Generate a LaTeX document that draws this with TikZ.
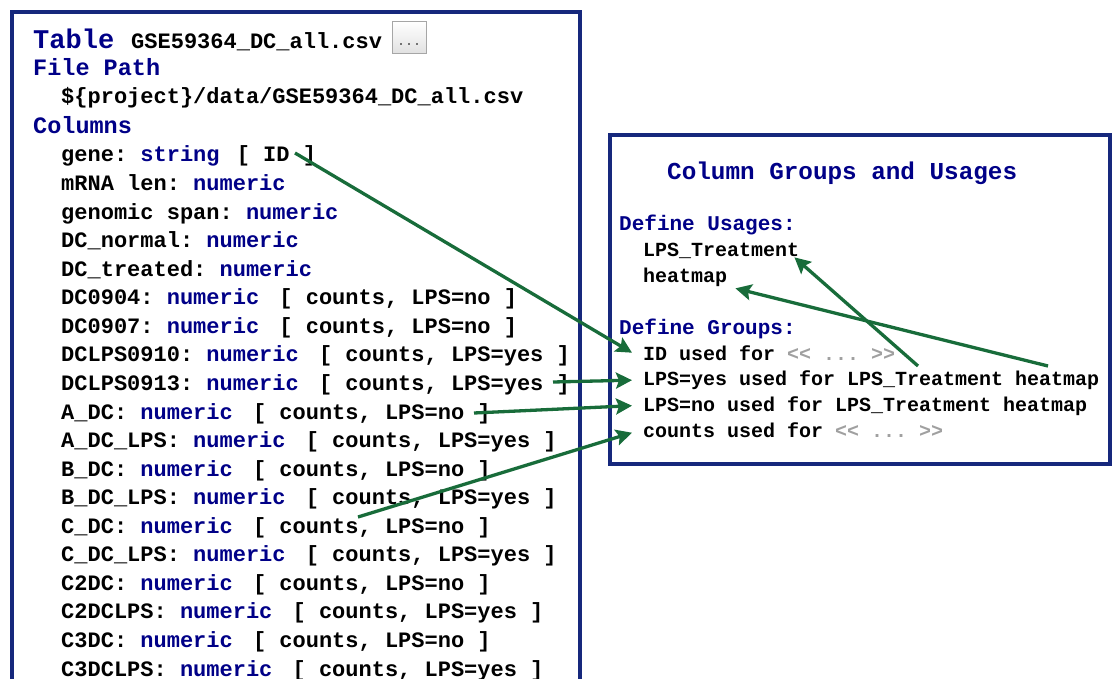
\documentclass[tikz,border=0pt]{standalone}
\usepackage{fontspec}
\setmonofont{Liberation Mono}
\usetikzlibrary{arrows.meta}
\definecolor{boxblue}{RGB}{22,40,124}
\definecolor{navytext}{RGB}{0,0,135}
\definecolor{arrgreen}{RGB}{24,108,58}
\definecolor{ghost}{RGB}{160,160,160}
\newcommand{\nv}[1]{\textcolor{navytext}{#1}}
\newcommand{\gh}[1]{\textcolor{ghost}{#1}}
\newcommand{\tg}[1]{\kern7pt[ #1 ]}
\tikzset{
  boxline/.style={draw=boxblue, line width=4pt},
  txt/.style={anchor=base west, inner sep=0pt, text=black, font=\ttfamily\bfseries\fontsize{22}{22}\selectfont},
  hdr/.style={txt, text=navytext, font=\ttfamily\bfseries\fontsize{23.5}{23.5}\selectfont},
  rtxt/.style={anchor=base west, inner ysep=0pt, inner xsep=11pt, text=black, font=\ttfamily\bfseries\fontsize{20}{20}\selectfont},
  rhdr/.style={anchor=base west, inner sep=0pt, text=navytext, font=\ttfamily\bfseries\fontsize{21}{21}\selectfont},
  conn/.style={draw=arrgreen, line width=3.3pt, -{Stealth[length=16pt,width=16pt,inset=3pt]}},
  btnbox/.style={draw=black!35, line width=1pt, top color=white, bottom color=black!12, minimum width=34pt, minimum height=32pt, inner sep=0pt},
  dotmark/.style={fill=black!55, minimum size=2.6pt, inner sep=0pt}
}
\begin{document}
\begin{tikzpicture}[x=1pt,y=-1pt]
\useasboundingbox (0,0) rectangle (1113,679);
% left box (bottom cut off)
\draw[boxline] (11.5,682) -- (11.5,12) -- (579.5,12) -- (579.5,682);
% right box
\draw[boxline] (609.5,135) rectangle (1109.5,464);

% left box header
\node[txt, text=navytext, font=\ttfamily\bfseries\fontsize{27}{27}\selectfont] (tbl) at (33,49) {Table};
\node[txt] (fname) at (131,49) {GSE59364\_DC\_all.csv};
\node[btnbox] (btn) at (409,38) {};
\node[dotmark] (d1) at (401,44) {};
\node[dotmark] (d2) at (409,44) {};
\node[dotmark] (d3) at (417,44) {};
\node[hdr] (fp) at (33,76) {File Path};
\node[txt] (path) at (61,104) {\$\{project\}/data/GSE59364\_DC\_all.csv};
\node[hdr] (cols) at (33,134) {Columns};

% columns
\node[txt] (c1) at (61,162) {gene: \nv{string} \kern4pt[ ID ]};
\node[txt] (c2) at (61,190.56) {mRNA len: \nv{numeric}};
\node[txt] (c3) at (61,219.12) {genomic span: \nv{numeric}};
\node[txt] (c4) at (61,247.68) {DC\_normal: \nv{numeric}};
\node[txt] (c5) at (61,276.24) {DC\_treated: \nv{numeric}};
\node[txt] (c6) at (61,304.8) {DC0904: \nv{numeric} \tg{counts, LPS=no}};
\node[txt] (c7) at (61,333.36) {DC0907: \nv{numeric} \tg{counts, LPS=no}};
\node[txt] (c8) at (61,361.92) {DCLPS0910: \nv{numeric} \tg{counts, LPS=yes}};
\node[txt] (c9) at (61,390.48) {DCLPS0913: \nv{numeric} \tg{counts, LPS=yes}};
\node[txt] (c10) at (61,419.04) {A\_DC: \nv{numeric} \tg{counts, LPS=no}};
\node[txt] (c11) at (61,447.6) {A\_DC\_LPS: \nv{numeric} \tg{counts, LPS=yes}};
\node[txt] (c12) at (61,476.16) {B\_DC: \nv{numeric} \tg{counts, LPS=no}};
\node[txt] (c13) at (61,504.72) {B\_DC\_LPS: \nv{numeric} \tg{counts, LPS=yes}};
\node[txt] (c14) at (61,533.28) {C\_DC: \nv{numeric} \tg{counts, LPS=no}};
\node[txt] (c15) at (61,561.84) {C\_DC\_LPS: \nv{numeric} \tg{counts, LPS=yes}};
\node[txt] (c16) at (61,590.4) {C2DC: \nv{numeric} \tg{counts, LPS=no}};
\node[txt] (c17) at (61,618.96) {C2DCLPS: \nv{numeric} \tg{counts, LPS=yes}};
\node[txt] (c18) at (61,647.52) {C3DC: \nv{numeric} \tg{counts, LPS=no}};
\node[txt] (c19) at (61,676.08) {C3DCLPS: \nv{numeric} \tg{counts, LPS=yes}};

% right box
\node[rhdr, font=\ttfamily\bfseries\fontsize{24.3}{24.3}\selectfont] (title) at (667,179) {Column Groups and Usages};
\node[rhdr] (du) at (619,230) {Define Usages:};
\node[rtxt] (uLPS) at (632,256) {LPS\_Treatment};
\node[rtxt] (uHeat) at (632,282) {heatmap};
\node[rhdr] (dg) at (619,334) {Define Groups:};
\node[rtxt] (gID) at (632,360) {ID used for \gh{<< ... >>}};
\node[rtxt] (gYes) at (632,385.5) {LPS=yes used for LPS\_Treatment heatmap};
\node[rtxt] (gNo) at (632,411) {LPS=no used for LPS\_Treatment heatmap};
\node[rtxt] (gCnt) at (632,437) {counts used for \gh{<< ... >>}};

% connector start points
\coordinate (sGene) at (295,153);
\coordinate (sYes) at (553,382);
\coordinate (sNo) at (474,413);
\coordinate (sCnt) at (358,517);
\coordinate (sTreat) at (918,366);
\coordinate (sHeat) at (1048,366);

\draw[conn] (sGene) -- (gID.west);
\draw[conn] (sYes) -- (gYes.west);
\draw[conn] (sNo) -- (gNo.west);
\draw[conn] (sCnt) -- ([yshift=-3pt]gCnt.west);
\draw[conn] (sTreat) -- ([xshift=-16pt,yshift=1pt]uLPS.south east);
\draw[conn] (sHeat) -- ([xshift=-3pt,yshift=-2pt]uHeat.south east);
\end{tikzpicture}
\end{document}
